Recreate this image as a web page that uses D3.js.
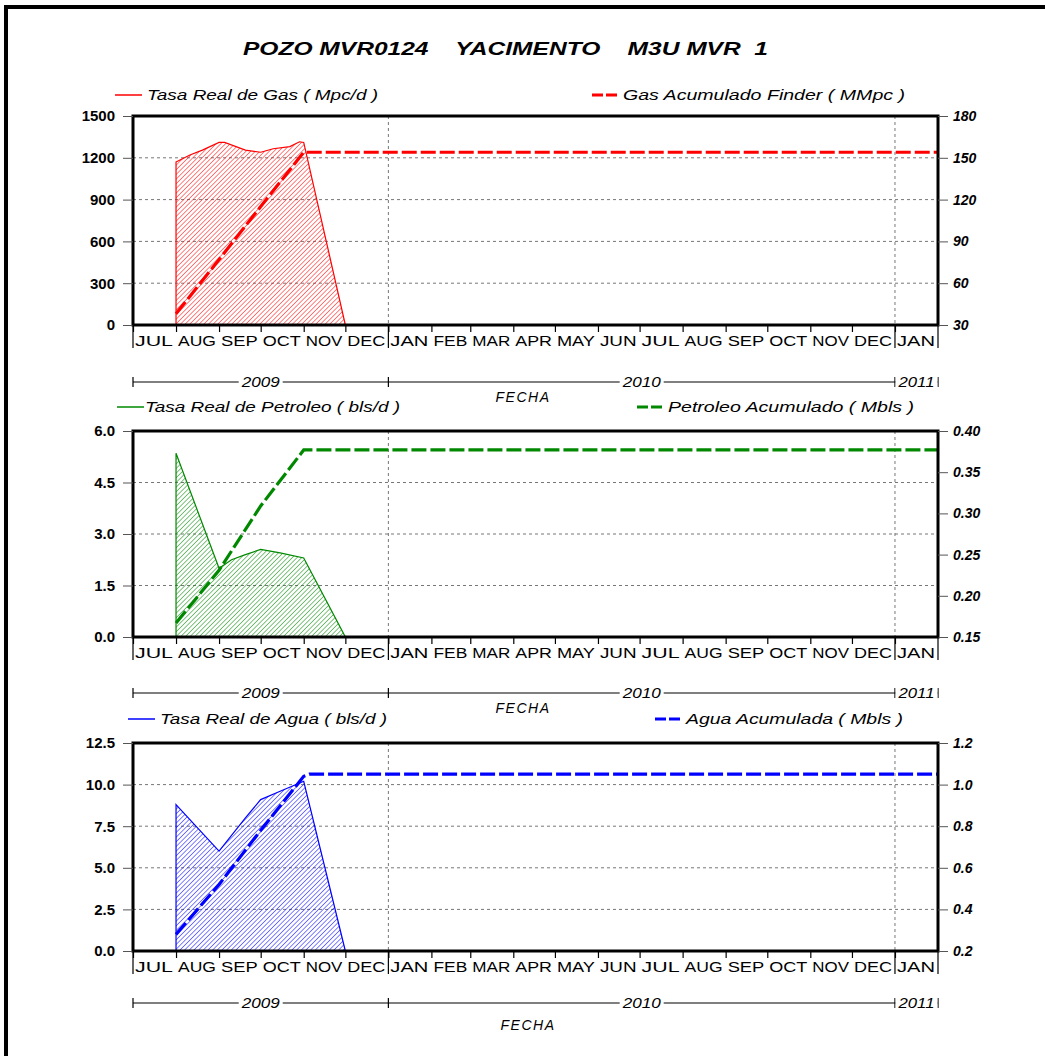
<!DOCTYPE html>
<html><head><meta charset="utf-8">
<script src="https://cdn.jsdelivr.net/npm/d3@7"></script>
<style>
body{margin:0;background:#fff}
text{font-family:"Liberation Sans Narrow","Liberation Sans",Arial,sans-serif}
</style>
</head><body>
<svg id="chart" width="1045" height="1056"></svg>
<script>
// ---- data ----
const titleText = "POZO MVR0124    YACIMENTO    M3U MVR  1";
const monthLabels = ["JUL","AUG","SEP","OCT","NOV","DEC","JAN","FEB","MAR","APR","MAY","JUN","JUL","AUG","SEP","OCT","NOV","DEC","JAN"];
const yearLabels = ["2009","2010","2011"];
const axisTitle = "FECHA";

const gasRateDates = ["2009-08-01","2009-08-11","2009-08-20","2009-09-01","2009-09-05","2009-09-20","2009-10-01","2009-10-10","2009-10-22","2009-10-29","2009-11-01","2009-12-01"];
const gasRate      = [1170, 1220, 1255, 1310, 1310, 1255, 1240, 1265, 1280, 1315, 1310, 0];
const gasCumDates  = ["2009-08-01","2009-09-01","2009-10-01","2009-11-01","2011-02-01"];
const gasCum       = [38, 77, 115, 154, 154];

const oilRateDates = ["2009-08-01","2009-09-01","2009-09-10","2009-09-20","2009-10-01","2009-10-15","2009-11-01","2009-12-01"];
const oilRate      = [5.35, 2.0, 2.25, 2.4, 2.55, 2.45, 2.3, 0];
const oilCumDates  = ["2009-08-01","2009-09-01","2009-10-01","2009-11-01","2011-02-01"];
const oilCum       = [0.167, 0.231, 0.309, 0.377, 0.377];

const waterRateDates = ["2009-08-01","2009-09-01","2009-09-20","2009-10-01","2009-10-15","2009-11-01","2009-12-01"];
const waterRate      = [8.8, 6.0, 8.0, 9.1, 9.6, 10.2, 0];
const waterCumDates  = ["2009-08-01","2009-09-01","2009-10-01","2009-11-01","2009-11-05","2011-02-01"];
const waterCum       = [0.28, 0.52, 0.78, 1.04, 1.05, 1.05];

const gasLeftTicks = [0, 300, 600, 900, 1200, 1500];
const gasRightTicks = [30, 60, 90, 120, 150, 180];
const oilLeftTicks = [0, 1.5, 3.0, 4.5, 6.0];
const oilRightTicks = [0.15, 0.20, 0.25, 0.30, 0.35, 0.40];
const waterLeftTicks = [0, 2.5, 5.0, 7.5, 10.0, 12.5];
const waterRightTicks = [0.2, 0.4, 0.6, 0.8, 1.0, 1.2];

const legendGas   = ["Tasa Real de Gas ( Mpc/d )", "Gas Acumulado Finder ( MMpc )"];
const legendOil   = ["Tasa Real de Petroleo ( bls/d )", "Petroleo Acumulado ( Mbls )"];
const legendWater = ["Tasa Real de Agua ( bls/d )", "Agua Acumulada ( Mbls )"];

// ---- layout ----
const svg = d3.select("#chart");
const parse = d3.timeParse("%Y-%m-%d");
const X0 = 133, X1 = 938;
const x = d3.scaleTime().domain([new Date(2009,6,1), new Date(2011,1,1)]).range([X0, X1]);

// page frame
svg.append("rect").attr("x",6).attr("y",7).attr("width",1200).attr("height",1200)
  .attr("fill","none").attr("stroke","#000").attr("stroke-width",4);

svg.append("text").attr("x",243).attr("y",55)
  .attr("textLength",525).attr("lengthAdjust","spacingAndGlyphs")
  .style("white-space","pre").attr("font-size",19).attr("font-weight","bold").attr("font-style","italic")
  .text(titleText);

const defs = svg.append("defs");
function hatch(id, color){
  const p = defs.append("pattern").attr("id",id).attr("patternUnits","userSpaceOnUse")
    .attr("width",3.3).attr("height",3.3).attr("patternTransform","rotate(45)");
  p.append("line").attr("x1",0).attr("y1",0).attr("x2",0).attr("y2",3.3)
    .attr("stroke",color).attr("stroke-width",1);
}

const panels = [
  {top:116, bottom:325, color:"#ff0000", id:"hGas",
   left:gasLeftTicks, right:gasRightTicks, lf:d3.format("d"), rf:d3.format("d"),
   rd:gasRateDates, rv:gasRate, cd:gasCumDates, cv:gasCum, legend:legendGas,
   lx:[115,147,231], rx:[592,623,282], ly:98, yearY:382, fechaY:402, fechaX:523},
  {top:431, bottom:637, color:"#008800", id:"hOil",
   left:oilLeftTicks, right:oilRightTicks, lf:d3.format(".1f"), rf:d3.format(".2f"),
   rd:oilRateDates, rv:oilRate, cd:oilCumDates, cv:oilCum, legend:legendOil,
   lx:[117,145,255], rx:[637,668,246], ly:410, yearY:693, fechaY:713, fechaX:523},
  {top:743, bottom:951, color:"#0000ff", id:"hWater",
   left:waterLeftTicks, right:waterRightTicks, lf:d3.format(".1f"), rf:d3.format(".1f"),
   rd:waterRateDates, rv:waterRate, cd:waterCumDates, cv:waterCum, legend:legendWater,
   lx:[128,160,227], rx:[655,686,217], ly:722, yearY:1003, fechaY:1030, fechaX:528}
];

const months = d3.timeMonth.range(new Date(2009,6,1), new Date(2011,1,1));
const yearBounds = [new Date(2009,6,1), new Date(2010,0,1), new Date(2011,0,1), new Date(2011,1,1)];

panels.forEach(P => {
  hatch(P.id, P.color);
  const g = svg.append("g");
  const yL = d3.scaleLinear().domain(d3.extent(P.left)).range([P.bottom, P.top]);
  const yR = d3.scaleLinear().domain(d3.extent(P.right)).range([P.bottom, P.top]);

  // grid
  g.selectAll(".hg").data(P.left.slice(1,-1)).join("line")
    .attr("x1",X0).attr("x2",X1).attr("y1",d=>yL(d)).attr("y2",d=>yL(d))
    .attr("stroke","#777").attr("stroke-dasharray","3,3").attr("stroke-width",1);
  g.selectAll(".vg").data([new Date(2010,0,1), new Date(2011,0,1)]).join("line")
    .attr("x1",d=>x(d)).attr("x2",d=>x(d)).attr("y1",P.top).attr("y2",P.bottom)
    .attr("stroke","#777").attr("stroke-dasharray","3,3").attr("stroke-width",1);

  // rate area (hatched)
  const rate = P.rd.map((d,i)=>({d:parse(d), v:P.rv[i]}));
  const area = d3.area().x(d=>x(d.d)).y0(yL(0)).y1(d=>yL(d.v));
  g.append("path").datum(rate).attr("d",area)
    .attr("fill",`url(#${P.id})`).attr("stroke",P.color).attr("stroke-width",1.2);

  // cumulative line
  const cum = P.cd.map((d,i)=>({d:parse(d), v:P.cv[i]}));
  g.append("path").datum(cum).attr("d", d3.line().x(d=>x(d.d)).y(d=>yR(d.v)))
    .attr("fill","none").attr("stroke",P.color).attr("stroke-width",3.2)
    .attr("stroke-dasharray","15,4");

  // frame
  g.append("rect").attr("x",X0).attr("y",P.top).attr("width",X1-X0).attr("height",P.bottom-P.top)
    .attr("fill","none").attr("stroke","#000").attr("stroke-width",3);

  // left axis
  const aL = g.append("g").attr("transform",`translate(${X0},0)`)
    .call(d3.axisLeft(yL).tickValues(P.left).tickFormat(P.lf).tickSize(10).tickPadding(8));
  aL.select(".domain").remove();
  aL.selectAll("line").attr("stroke","#555");
  aL.selectAll("text").attr("font-size",15).attr("font-weight","bold").attr("fill","#000")
    .attr("font-family","'Liberation Sans Narrow','Liberation Sans',Arial");
  // right axis
  const aR = g.append("g").attr("transform",`translate(${X1},0)`)
    .call(d3.axisRight(yR).tickValues(P.right).tickFormat(P.rf).tickSize(10).tickPadding(5));
  aR.select(".domain").remove();
  aR.selectAll("line").attr("stroke","#555");
  aR.selectAll("text").attr("font-size",14).attr("font-weight","bold").attr("font-style","italic").attr("fill","#000")
    .attr("font-family","'Liberation Sans Narrow','Liberation Sans',Arial");

  // month ticks and labels
  const aB = g.append("g").attr("transform",`translate(0,${P.bottom})`)
    .call(d3.axisBottom(x).tickValues(months).tickSize(7).tickFormat(""));
  aB.select(".domain").remove();
  aB.selectAll("line").attr("stroke","#000").attr("stroke-width",1.2);
  g.selectAll(".yb").data(yearBounds).join("line")
    .attr("x1",d=>x(d)).attr("x2",d=>x(d)).attr("y1",P.bottom).attr("y2",P.bottom+23)
    .attr("stroke","#000").attr("stroke-width",1.2);
  g.selectAll(".ml").data(months).join("text")
    .attr("x",d=>x(d)+2).attr("y",P.bottom+21)
    .attr("textLength",(d,i)=>Math.min(38, x(d3.timeMonth.offset(d,1))-x(d)-5))
    .attr("lengthAdjust","spacingAndGlyphs")
    .attr("font-size",14).attr("font-family","'Liberation Sans',Arial")
    .text((d,i)=>monthLabels[i]);

  // year bar
  const yy = P.yearY;
  g.append("line").attr("x1",X0).attr("x2",X1).attr("y1",yy).attr("y2",yy).attr("stroke","#000").attr("stroke-width",1.2);
  g.selectAll(".yt").data(yearBounds).join("line")
    .attr("x1",d=>x(d)).attr("x2",d=>x(d)).attr("y1",yy-5).attr("y2",yy+5)
    .attr("stroke","#000").attr("stroke-width",1.2);
  yearLabels.forEach((lab,i)=>{
    const cx = (x(yearBounds[i]) + x(yearBounds[i+1]))/2;
    const w = i===2 ? 36 : 38;
    g.append("rect").attr("x",cx-w/2-3).attr("y",yy-8).attr("width",w+6).attr("height",16).attr("fill","#fff");
    g.append("text").attr("x",cx-w/2).attr("y",yy+5).attr("textLength",w).attr("lengthAdjust","spacingAndGlyphs")
      .attr("font-size",14).attr("font-style","italic").text(lab);
  });
  g.append("text").attr("x",P.fechaX).attr("y",P.fechaY).attr("text-anchor","middle")
    .attr("font-size",14).attr("font-style","italic").attr("letter-spacing",1.5).text(axisTitle);

  // legends
  g.append("line").attr("x1",P.lx[0]).attr("x2",P.lx[0]+27).attr("y1",P.ly-3).attr("y2",P.ly-3)
    .attr("stroke",P.color).attr("stroke-width",1.5);
  g.append("text").attr("x",P.lx[1]).attr("y",P.ly+2).attr("textLength",P.lx[2]).attr("lengthAdjust","spacingAndGlyphs")
    .attr("font-size",14).attr("font-style","italic").attr("font-family","'Liberation Sans',Arial").text(P.legend[0]);
  g.append("line").attr("x1",P.rx[0]).attr("x2",P.rx[0]+28).attr("y1",P.ly-3).attr("y2",P.ly-3)
    .attr("stroke",P.color).attr("stroke-width",3).attr("stroke-dasharray","11,3");
  g.append("text").attr("x",P.rx[1]).attr("y",P.ly+2).attr("textLength",P.rx[2]).attr("lengthAdjust","spacingAndGlyphs")
    .attr("font-size",14).attr("font-style","italic").attr("font-family","'Liberation Sans',Arial").text(P.legend[1]);
});
</script>
</body></html>
